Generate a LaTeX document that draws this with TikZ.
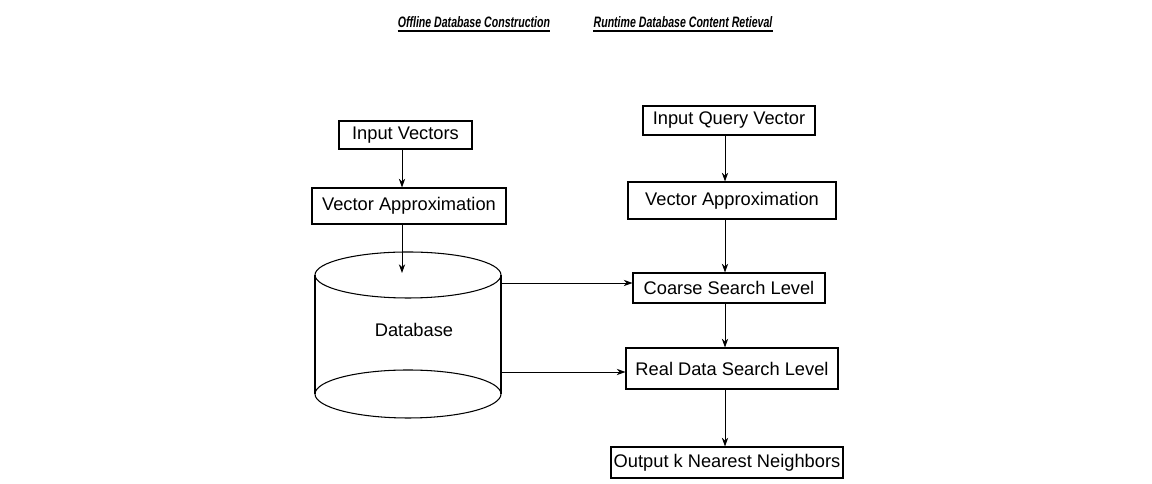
\documentclass[tikz,border=0pt]{standalone}
\usepackage{fontspec}
\setmainfont{Liberation Sans}
\usetikzlibrary{arrows.meta}

\begin{document}
\begin{tikzpicture}[
  every node/.style={font=\fontsize{10.4}{12}\selectfont},
  box/.style={draw, semithick, inner sep=0pt},
  flow/.style={-{Stealth[length=5pt,width=3.6pt]}, line width=0.5pt},
  heading/.style={inner sep=0pt, font=\fontsize{8.6}{10}\selectfont\bfseries\itshape}]
  \useasboundingbox (0,0) rectangle (23.04,9.68);

  % Headings
  \node[heading] (offline) at (9.48,9.24) {\scalebox{0.70}[1]{Offline Database Construction}};
  \node[heading] (runtime) at (13.66,9.24) {\scalebox{0.70}[1]{Runtime Database Content Retieval}};
  \draw[line width=1.1pt] ([yshift=-1.8pt]offline.base west) -- ([yshift=-1.8pt]offline.base east);
  \draw[line width=1.1pt] ([yshift=-1.8pt]runtime.base west) -- ([yshift=-1.8pt]runtime.base east);

  % Offline side
  \node[box, minimum width=2.66cm, minimum height=0.56cm] (invec) at (8.11,6.98) {Input Vectors};
  \node[box, minimum width=3.88cm, minimum height=0.72cm] (vaoff) at (8.18,5.56) {Vector Approximation};

  % Database cylinder
  \draw[semithick] (8.16,4.18) ellipse (1.86 and 0.46);
  \draw[semithick] (6.30,4.18) -- (6.30,1.80);
  \draw[semithick] (10.02,4.18) -- (10.02,1.80);
  \draw[semithick] (8.16,1.80) ellipse (1.86 and 0.48);
  \node (db) at (8.28,3.08) {Database};
  \coordinate (dbin) at (8.04,4.22);
  \coordinate (dbhi) at (10.02,4.02);
  \coordinate (dblo) at (10.02,2.24);

  % Runtime side
  \node[box, minimum width=3.44cm, minimum height=0.58cm] (query) at (14.58,7.27) {Input Query Vector};
  \node[box, minimum width=4.16cm, minimum height=0.74cm] (vaon) at (14.64,5.67) {Vector Approximation};
  \node[box, minimum width=3.84cm, minimum height=0.60cm] (coarse) at (14.58,3.92) {Coarse Search Level};
  \node[box, minimum width=4.24cm, minimum height=0.82cm] (real) at (14.64,2.31) {Real Data Search Level};
  \node[box, minimum width=4.64cm, minimum height=0.62cm] (knn) at (14.54,0.43) {Output k Nearest Neighbors};

  % Arrows
  \coordinate (lx) at (8.04,0);
  \coordinate (rx) at (14.50,0);
  \draw[flow] (invec.south -| lx) -- (vaoff.north -| lx);
  \draw[flow] (vaoff.south -| lx) -- (dbin);
  \draw[flow] (query.south -| rx) -- (vaon.north -| rx);
  \draw[flow] (vaon.south -| rx) -- (coarse.north -| rx);
  \draw[flow] (coarse.south -| rx) -- (real.north -| rx);
  \draw[flow] (real.south -| rx) -- (knn.north -| rx);
  \draw[flow] (dbhi) -- (dbhi -| coarse.west);
  \draw[flow] (dblo) -- (dblo -| real.west);
\end{tikzpicture}
\end{document}
